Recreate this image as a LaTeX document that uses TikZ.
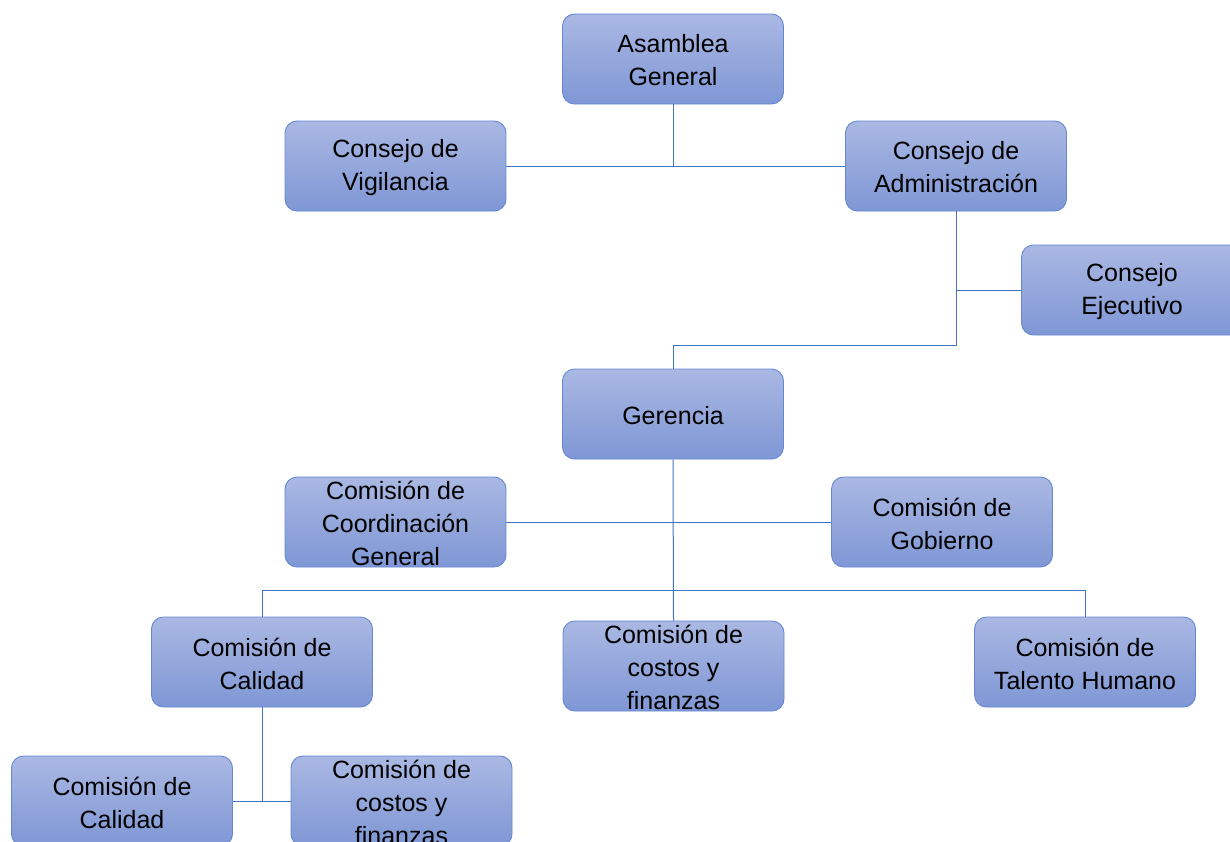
\documentclass[tikz,border=0pt]{standalone}
\usepackage{fontspec}
\setmainfont{Liberation Sans}
\definecolor{boxtop}{RGB}{170,184,227}
\definecolor{boxbot}{RGB}{127,151,213}
\definecolor{boxline}{RGB}{100,135,212}
\definecolor{conn}{RGB}{68,114,196}
\tikzset{
  orgbox/.style={draw=boxline, line width=0.9pt, rounded corners=12pt, top color=boxtop, bottom color=boxbot,
    minimum width=221pt, minimum height=90pt, inner sep=0pt},
  lbl/.style={align=center, font=\fontsize{25}{33}\selectfont, text=black, inner sep=0pt, yshift=-1.5pt},
  link/.style={draw=conn, line width=1pt}
}
\begin{document}
\begin{tikzpicture}[x=1pt,y=-1pt]
\useasboundingbox (0,0) rectangle (1230,841);
\clip (0,0) rectangle (1230,841);
% boxes
\node[orgbox, label={[lbl]center:Asamblea\\General}] (asm) at (673,59) {};
\node[orgbox, label={[lbl]center:Consejo de\\Vigilancia}] (vig) at (395.5,166) {};
\node[orgbox, label={[lbl]center:Consejo de\\Administración}] (adm) at (956,166) {};
\node[orgbox, label={[lbl]center:Consejo\\Ejecutivo}] (eje) at (1132,290) {};
\node[orgbox, label={[lbl]center:Gerencia}] (ger) at (673,414) {};
\node[orgbox, label={[lbl]center:Comisión de\\Coordinación\\General}] (coo) at (395.5,522) {};
\node[orgbox, label={[lbl]center:Comisión de\\Gobierno}] (gob) at (942,522) {};
\node[orgbox, label={[lbl]center:Comisión de\\Calidad}] (cal) at (262,662) {};
\node[orgbox, label={[lbl]center:Comisión de\\costos y\\finanzas}] (cos) at (673.5,666) {};
\node[orgbox, label={[lbl]center:Comisión de\\Talento Humano}] (tal) at (1085,662) {};
\node[orgbox, label={[lbl]center:Comisión de\\Calidad}] (bcal) at (122,801) {};
\node[orgbox, label={[lbl]center:Comisión de\\costos y\\finanzas}] (bcos) at (401.5,801) {};
% connectors
\coordinate (j1) at (956,345);
\coordinate (bus) at (673,590);
\draw[link] (asm.south) -- (asm.south |- vig.east);
\draw[link] (vig.east) -- (adm.west);
\draw[link] (adm.south) -- (j1) -- (j1 -| ger.north) -- (ger.north);
\draw[link] (adm.south |- eje.west) -- (eje.west);
\draw[link] (ger.south) -- (cos.north);
\draw[link] (coo.east) -- (gob.west);
\draw[link] (cal.north) -- (cal.north |- bus) -- (tal.north |- bus) -- (tal.north);
\draw[link] (cal.south) -- (cal.south |- bcal.east);
\draw[link] (bcal.east) -- (bcos.west);
\end{tikzpicture}
\end{document}
